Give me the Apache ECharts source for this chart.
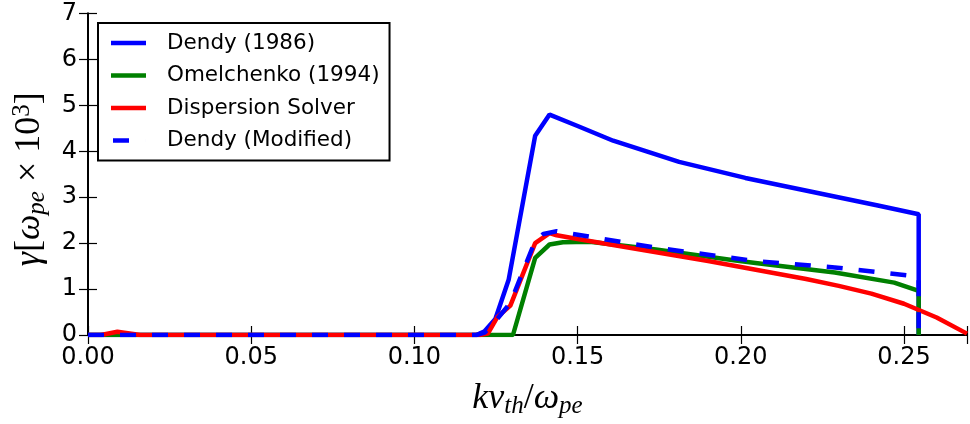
<!DOCTYPE html>
<html>
<head>
<meta charset="utf-8">
<script src="https://cdn.jsdelivr.net/npm/echarts@6/dist/echarts.min.js"></script>
<style>html,body{margin:0;padding:0;background:#fff;}#c{width:970px;height:424px;}</style>
</head>
<body>
<div id="c"></div>
<script>
// ---- data ----
const dendyX = [0, 0.119, 0.1215, 0.1248, 0.1289, 0.1370, 0.1414, 0.150, 0.1609, 0.1811, 0.2014, 0.2217, 0.2420, 0.2545, 0.2545];
const dendyY = [0, 0, 0.08, 0.35, 1.21, 4.34, 4.80, 4.55, 4.23, 3.77, 3.42, 3.12, 2.82, 2.63, 0];

const omelX = [0, 0.1302, 0.1370, 0.1414, 0.1455, 0.1537, 0.1740, 0.1984, 0.2045, 0.2288, 0.2470, 0.2545, 0.2545];
const omelY = [0, 0, 1.68, 1.97, 2.02, 2.03, 1.86, 1.62, 1.57, 1.36, 1.14, 0.96, 0];

const solverX = [0, 0.004, 0.009, 0.016, 0.120, 0.1225, 0.1254, 0.1294, 0.1370, 0.1414, 0.1436, 0.150, 0.160, 0.170, 0.180, 0.190, 0.200, 0.210, 0.220, 0.230, 0.240, 0.250, 0.260, 0.2693];
const solverY = [0, 0, 0.07, 0, 0, 0.03, 0.39, 0.64, 2.00, 2.22, 2.17, 2.09, 1.97, 1.85, 1.73, 1.61, 1.48, 1.35, 1.22, 1.07, 0.90, 0.68, 0.38, 0.03];

const modX = [0, 0.119, 0.1215, 0.1254, 0.1294, 0.1370, 0.1395, 0.1436, 0.1740, 0.2045, 0.2288, 0.2545, 0.2545];
const modY = [0, 0, 0.05, 0.35, 0.70, 2.05, 2.20, 2.26, 1.90, 1.61, 1.47, 1.27, 0];

const seriesNames = ['Dendy (1986)', 'Omelchenko (1994)', 'Dispersion Solver', 'Dendy (Modified)'];
const xTicks = [0, 0.05, 0.10, 0.15, 0.20, 0.25];
const yTicks = [0, 1, 2, 3, 4, 5, 6, 7];

const zip = (xs, ys) => xs.map((x, i) => [x, ys[i]]);

const chart = echarts.init(document.getElementById('c'));
const tickFont = { fontFamily: 'DejaVu Sans', fontSize: 24, color: '#000' };
const mathRich = {
  i: { fontFamily: 'Liberation Serif', fontStyle: 'italic', fontSize: 36, color: '#000', lineHeight: 40 },
  n: { fontFamily: 'Liberation Serif', fontSize: 36, color: '#000', lineHeight: 40 },
  s: { fontFamily: 'Liberation Serif', fontStyle: 'italic', fontSize: 25, color: '#000', lineHeight: 16, verticalAlign: 'bottom' },
  sup: { fontFamily: 'Liberation Serif', fontSize: 25, color: '#000', lineHeight: 22, verticalAlign: 'top' }
};
const axisCommon = {
  type: 'value',
  splitLine: { show: false },
  axisLine: { show: true, lineStyle: { color: '#000', width: 2 } },
  axisTick: { show: true, inside: true, length: 9, lineStyle: { color: '#000', width: 1.2 } }
};

const xMin = 0, xMax = 0.2693, yMin = 0, yMax = 7;
const solidIcon = 'rect';
const dashIcon = 'path://M0,0H0.01V4.5H0Z M2,0H18V4.5H2Z M34.99,0H35V4.5H34.99Z';

chart.setOption({
  animation: false,
  backgroundColor: '#fff',
  grid: { left: 88, right: -3, top: 13.5, bottom: 86, containLabel: false },
  xAxis: [
    Object.assign({}, axisCommon, {
      min: xMin, max: xMax, interval: 0.05, position: 'bottom',
      axisLabel: Object.assign({ margin: 11, formatter: v => xTicks.indexOf(+v.toFixed(2)) >= 0 ? v.toFixed(2) : '' }, tickFont),
      name: '{i|kv}{s|th}{n|/}{i|ω}{s|pe}', nameLocation: 'middle', nameGap: 44,
      nameTextStyle: { rich: mathRich }
    }),
    Object.assign({}, axisCommon, {
      min: xMin, max: xMax, interval: 0.05, position: 'top', axisLabel: { show: false }
    })
  ],
  yAxis: [
    Object.assign({}, axisCommon, {
      min: yMin, max: yMax, interval: 1, position: 'left',
      axisLabel: Object.assign({ margin: 11, formatter: v => yTicks.indexOf(v) >= 0 ? String(v) : '' }, tickFont),
      name: '{i|γ}{n|[}{i|ω}{s|pe}{n| × 10}{sup|3}{n|]}', nameLocation: 'middle', nameGap: 38, nameRotate: 90,
      nameTextStyle: { rich: mathRich, padding: [0, 10, 0, 0] }
    }),
    Object.assign({}, axisCommon, {
      min: yMin, max: yMax, interval: 1, position: 'right', axisLabel: { show: false }
    })
  ],
  legend: {
    orient: 'vertical', left: 98, top: 23,
    padding: [9, 10, 9, 13],
    backgroundColor: '#fff', borderColor: '#000', borderWidth: 2, borderRadius: 0,
    itemWidth: 35, itemHeight: 4.5, itemGap: 10.5,
    symbolKeepAspect: false,
    textStyle: { fontFamily: 'DejaVu Sans', fontSize: 21.5, color: '#000', lineHeight: 21, padding: [0, 0, 0, 16] },
    data: [
      { name: seriesNames[0], icon: solidIcon },
      { name: seriesNames[1], icon: solidIcon },
      { name: seriesNames[2], icon: solidIcon },
      { name: seriesNames[3], icon: dashIcon }
    ]
  },
  series: [
    { name: seriesNames[0], type: 'line', symbol: 'none', data: zip(dendyX, dendyY), lineStyle: { color: '#0000ff', width: 4.5 }, itemStyle: { color: '#0000ff' } },
    { name: seriesNames[1], type: 'line', symbol: 'none', data: zip(omelX, omelY), lineStyle: { color: '#008000', width: 4.5 }, itemStyle: { color: '#008000' } },
    { name: seriesNames[2], type: 'line', symbol: 'none', data: zip(solverX, solverY), lineStyle: { color: '#ff0000', width: 4.5 }, itemStyle: { color: '#ff0000' } },
    { name: seriesNames[3], type: 'line', symbol: 'none', data: zip(modX, modY), lineStyle: { color: '#0000ff', width: 4.5, type: [16, 16] }, itemStyle: { color: '#0000ff' } }
  ]
});
</script>
</body>
</html>
